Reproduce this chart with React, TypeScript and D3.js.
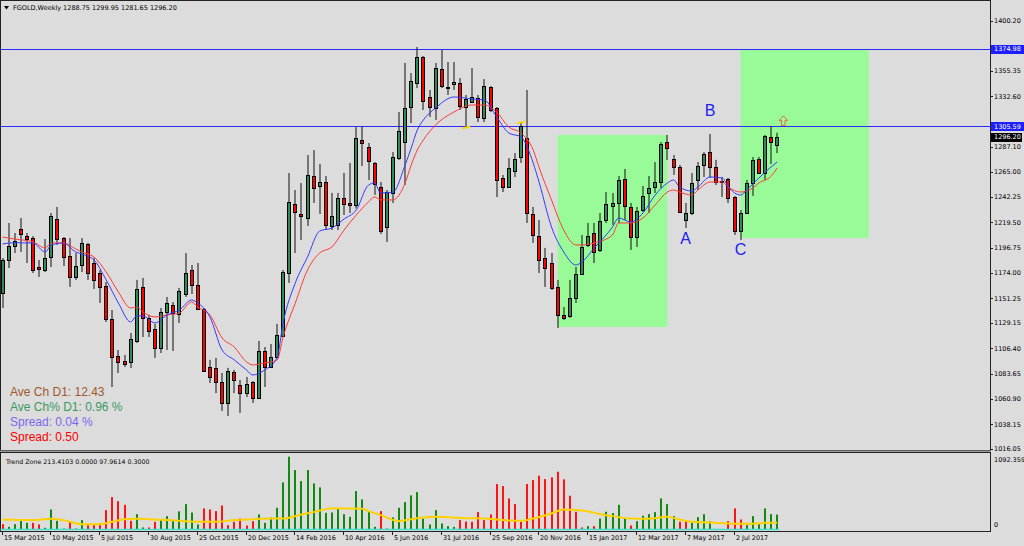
import React from "react";
import * as d3 from "d3";

// weekly bars, 15 Mar 2015 .. 20 Aug 2017 : [open, high, low, close]
const ohlc: [number, number, number, number][] = [
  [1156.1, 1187.5, 1142.6, 1185.7], [1185.7, 1218.9, 1178.5, 1198.3], [1198.3, 1209.9, 1192.0, 1202.7],
  [1213.5, 1223.4, 1192.9, 1209.0], [1207.2, 1209.9, 1183.0, 1204.5], [1205.4, 1207.2, 1174.0, 1176.7],
  [1179.4, 1185.7, 1170.5, 1177.6], [1176.7, 1204.5, 1174.9, 1187.5], [1188.4, 1227.9, 1179.4, 1225.2],
  [1222.5, 1233.3, 1199.2, 1204.5], [1205.4, 1206.3, 1180.3, 1188.4], [1189.3, 1205.4, 1161.5, 1170.5],
  [1170.5, 1192.0, 1167.8, 1180.3], [1181.2, 1205.4, 1174.9, 1201.0], [1200.1, 1201.0, 1167.8, 1174.0],
  [1183.0, 1187.5, 1159.7, 1167.8], [1174.0, 1176.7, 1147.1, 1161.5], [1162.4, 1166.0, 1130.1, 1132.8],
  [1132.8, 1140.8, 1071.7, 1098.7], [1099.6, 1104.9, 1084.3, 1094.2], [1095.1, 1100.5, 1089.7, 1092.4],
  [1094.2, 1120.2, 1088.8, 1114.8], [1113.0, 1167.8, 1111.2, 1159.7], [1161.5, 1169.6, 1116.6, 1133.7],
  [1133.7, 1136.4, 1116.6, 1122.0], [1123.8, 1128.3, 1097.8, 1106.7], [1106.7, 1142.6, 1102.2, 1139.0],
  [1139.0, 1152.5, 1104.9, 1147.1], [1145.3, 1148.0, 1104.0, 1138.1], [1137.2, 1160.6, 1129.2, 1157.9],
  [1155.2, 1192.0, 1152.5, 1174.0], [1176.7, 1181.2, 1155.2, 1163.3], [1163.3, 1183.0, 1140.8, 1141.7],
  [1141.7, 1142.6, 1085.2, 1086.1], [1089.7, 1096.0, 1075.3, 1080.7], [1088.8, 1097.8, 1066.2, 1076.2],
  [1076.2, 1084.3, 1050.2, 1057.4], [1057.4, 1088.8, 1045.7, 1086.1], [1085.2, 1087.0, 1066.2, 1078.0],
  [1073.5, 1078.0, 1048.4, 1066.2], [1066.2, 1080.7, 1062.7, 1074.4], [1076.2, 1077.0, 1057.4, 1061.8],
  [1061.8, 1113.0, 1060.9, 1104.0], [1104.0, 1107.6, 1071.7, 1089.7], [1089.7, 1110.3, 1088.8, 1098.7],
  [1098.7, 1128.3, 1097.8, 1118.4], [1117.5, 1176.7, 1116.6, 1174.9], [1174.0, 1263.8, 1165.1, 1237.8],
  [1236.0, 1248.5, 1192.0, 1228.8], [1227.0, 1254.8, 1203.7, 1225.2], [1223.4, 1279.9, 1216.2, 1262.0],
  [1261.1, 1284.4, 1236.9, 1250.3], [1252.1, 1271.9, 1227.0, 1255.7], [1255.7, 1261.1, 1212.6, 1217.1],
  [1216.2, 1245.9, 1212.6, 1225.2], [1217.1, 1245.9, 1212.6, 1241.3], [1241.3, 1263.8, 1226.1, 1236.0],
  [1236.9, 1272.8, 1227.9, 1235.1], [1235.1, 1305.0, 1232.0, 1295.2], [1293.4, 1305.9, 1270.1, 1290.7],
  [1287.1, 1290.7, 1257.5, 1274.5], [1272.7, 1273.6, 1244.1, 1253.9], [1251.2, 1255.7, 1209.0, 1211.7],
  [1215.3, 1248.5, 1201.9, 1246.7], [1245.8, 1282.6, 1236.9, 1278.1], [1277.2, 1318.5, 1275.5, 1301.5],
  [1291.6, 1362.5, 1253.0, 1322.1], [1323.0, 1353.5, 1308.6, 1346.4], [1344.5, 1376.9, 1340.0, 1367.9],
  [1367.9, 1368.8, 1320.3, 1328.4], [1332.0, 1338.3, 1314.1, 1323.0], [1322.1, 1362.5, 1311.4, 1358.0],
  [1357.1, 1374.2, 1340.0, 1341.8], [1340.9, 1363.4, 1333.8, 1340.0], [1343.6, 1363.4, 1338.3, 1345.5],
  [1344.5, 1349.0, 1320.3, 1323.9], [1323.0, 1333.8, 1304.2, 1330.2], [1327.5, 1358.0, 1326.6, 1332.0],
  [1331.1, 1333.8, 1309.5, 1314.1], [1313.2, 1348.1, 1309.5, 1341.8], [1340.9, 1341.8, 1318.5, 1320.3],
  [1322.1, 1323.0, 1242.2, 1257.5], [1259.3, 1262.0, 1246.7, 1251.2], [1251.2, 1277.2, 1250.3, 1268.3],
  [1265.6, 1281.7, 1260.2, 1276.3], [1278.1, 1309.5, 1272.8, 1305.9], [1295.2, 1338.3, 1218.9, 1227.9],
  [1227.0, 1233.3, 1201.0, 1208.1], [1207.2, 1221.6, 1174.0, 1185.7], [1187.5, 1196.5, 1161.5, 1178.5],
  [1183.0, 1192.0, 1158.8, 1160.6], [1161.5, 1167.8, 1124.7, 1136.4], [1136.4, 1143.5, 1131.9, 1133.7],
  [1135.5, 1167.8, 1133.7, 1151.6], [1151.6, 1179.4, 1147.1, 1173.1], [1173.1, 1208.1, 1172.2, 1197.4],
  [1199.2, 1218.9, 1197.4, 1207.2], [1209.9, 1218.9, 1183.0, 1192.9], [1194.7, 1227.9, 1192.9, 1220.7],
  [1221.6, 1246.7, 1218.9, 1236.0], [1234.2, 1245.8, 1217.1, 1236.9], [1236.9, 1261.1, 1218.9, 1257.5],
  [1258.4, 1267.4, 1221.6, 1234.2], [1233.3, 1236.9, 1194.7, 1206.3], [1206.3, 1233.3, 1197.4, 1229.7],
  [1230.6, 1252.1, 1228.8, 1243.2], [1245.8, 1261.1, 1227.9, 1250.3], [1251.2, 1273.6, 1245.8, 1255.7],
  [1255.7, 1291.6, 1250.3, 1289.8], [1291.6, 1297.9, 1275.5, 1286.2], [1276.4, 1279.9, 1262.0, 1269.2],
  [1269.2, 1271.0, 1227.9, 1228.8], [1221.6, 1236.9, 1214.4, 1227.9], [1227.9, 1263.8, 1226.1, 1254.8],
  [1257.5, 1273.6, 1248.5, 1270.1], [1270.9, 1282.6, 1260.2, 1280.8], [1282.6, 1298.8, 1259.3, 1269.2],
  [1269.2, 1275.5, 1253.0, 1255.7], [1256.6, 1260.2, 1242.2, 1255.7], [1258.4, 1259.3, 1236.9, 1241.3],
  [1242.2, 1243.0, 1208.1, 1211.7], [1211.7, 1230.6, 1203.7, 1227.9], [1227.9, 1257.5, 1227.0, 1254.8],
  [1254.8, 1278.1, 1243.2, 1275.5], [1276.4, 1278.1, 1263.0, 1263.8], [1263.8, 1297.9, 1257.5, 1297.0],
  [1296.1, 1305.9, 1271.9, 1291.6], [1288.75, 1299.95, 1281.65, 1296.2],
];

// moving averages, read at these bars
const maIdx = [0, 2, 5, 7, 8, 10, 12, 13, 15, 17, 19, 21, 22, 23, 25, 27, 29, 31, 32, 34, 36, 38, 40, 41, 43,
  45, 46, 48, 50, 52, 54, 56, 58, 60, 61, 62, 64, 66, 67, 68, 69, 71, 74, 77, 79, 81, 83, 85, 87, 88, 90, 92,
  94, 95, 97, 100, 101, 103, 105, 107, 109, 110, 111, 113, 114, 116, 118, 119, 121, 122, 123, 124, 126, 127];
const maFast = [1200.1, 1201.2, 1200.9, 1192.9, 1199.2, 1200.9, 1192.9, 1191.1, 1185.7, 1167.8, 1147.1, 1130.1,
  1135.5, 1135.5, 1129.2, 1136.4, 1140.8, 1149.8, 1147.1, 1134.6, 1104.9, 1096.0, 1087.0, 1082.5, 1087.0, 1097.8,
  1129.2, 1165.1, 1188.4, 1211.7, 1214.4, 1222.5, 1230.6, 1253.0, 1254.8, 1245.8, 1246.7, 1270.9, 1286.2, 1302.4,
  1311.4, 1322.1, 1332.0, 1330.2, 1329.3, 1314.1, 1299.7, 1296.1, 1272.7, 1254.8, 1215.3, 1192.9, 1181.2, 1183.9,
  1196.5, 1215.3, 1223.4, 1219.8, 1227.9, 1244.0, 1254.8, 1257.5, 1251.2, 1247.6, 1251.2, 1260.2, 1259.3, 1251.2,
  1244.0, 1248.5, 1253.9, 1259.3, 1269.2, 1273.6];
const maSlow = [1206.3, 1204.5, 1201.9, 1196.5, 1201.0, 1201.0, 1195.6, 1192.9, 1188.4, 1174.9, 1157.0, 1142.6,
  1143.5, 1139.0, 1134.6, 1136.4, 1138.1, 1148.0, 1143.5, 1136.4, 1115.7, 1107.6, 1094.2, 1091.5, 1093.3, 1095.9,
  1116.6, 1147.1, 1176.7, 1192.0, 1197.4, 1212.6, 1226.1, 1237.8, 1242.3, 1239.6, 1239.6, 1254.8, 1270.9, 1284.4,
  1293.4, 1306.9, 1318.5, 1324.8, 1324.8, 1318.5, 1305.0, 1299.7, 1284.4, 1268.3, 1239.6, 1212.6, 1199.2, 1199.2,
  1201.0, 1208.1, 1218.9, 1218.9, 1223.4, 1235.1, 1246.7, 1248.5, 1246.7, 1244.0, 1248.5, 1255.7, 1255.7, 1251.2,
  1246.7, 1247.6, 1250.3, 1254.8, 1260.9, 1268.3];

// Trend Zone histogram: positive = green, negative = red
const trendZone = [-76, 38, 76, 124, 95, -95, -72, 24, 286, 124, 14, -119, -14, 134, -62, -62, -86, -277, -463,
  -405, -353, -124, 219, 29, -29, -110, 143, 191, 124, 258, 363, 243, 72, -301, -286, -262, -343, -62, -110, -157,
  -57, -119, 215, 95, 172, 310, 673, 1040, 849, 692, 849, 658, 601, 239, 243, 301, 219, 181, 549, 429, 248, 38,
  -262, -14, 172, 310, 391, 487, 534, 157, 72, 277, 86, 48, 38, -134, -114, -110, -248, -134, -215, -649, -620,
  -444, -363, -110, -649, -706, -768, -720, -744, -825, -716, -482, -253, -29, 48, -48, 157, 253, 234, 353, 153,
  -57, 119, 196, 219, 248, 444, 363, 191, -110, -119, 95, 176, 219, 119, 0, 0, -119, -301, -143, 62, 191, 76, 301,
  219, 213.41];
const tzAvgIdx = [0, 5, 8, 10, 13, 16, 18, 20, 22, 24, 27, 30, 32, 35, 38, 41, 44, 46, 49, 51, 53, 54, 59, 60, 62,
  65, 67, 71, 73, 76, 79, 82, 85, 87, 90, 92, 94, 96, 98, 100, 103, 106, 109, 111, 113, 116, 120, 123, 125, 127];
const tzAvg = [143, 134, 153, 134, 76, 76, 110, 148, 153, 148, 134, 119, 110, 110, 134, 148, 157, 157, 215, 248,
  291, 305, 296, 262, 205, 119, 148, 181, 176, 162, 157, 134, 124, 157, 229, 286, 277, 258, 219, 191, 157, 153,
  181, 143, 110, 100, 81, 81, 95, 97.96];
const tzLevel = 0.3;
const tzMax = 1092.359;

const dateTickIdx = [0, 8, 16, 24, 32, 40, 48, 56, 64, 72, 80, 88, 96, 104, 112, 120];
const dateLabels = ["15 Mar 2015", "10 May 2015", "5 Jul 2015", "30 Aug 2015", "25 Oct 2015", "20 Dec 2015",
  "14 Feb 2016", "10 Apr 2016", "5 Jun 2016", "31 Jul 2016", "25 Sep 2016", "20 Nov 2016", "15 Jan 2017",
  "12 Mar 2017", "7 May 2017", "2 Jul 2017"];
// 1377.45 and 1309.85 sit under the level boxes, so they are left out
const priceTicks = [1400.2, 1355.35, 1332.6, 1287.1, 1265.0, 1242.25, 1219.5, 1196.75, 1174.0,
  1151.25, 1129.15, 1106.4, 1083.65, 1060.9, 1038.15, 1016.05];

const levels = [1374.98, 1305.59];
const lastPrice = 1296.2;

// green zones
const zoneStart = [91, 121];
const zoneEnd = [109, 142];
const zoneHigh = [1297.9, 1374.98];
const zoneLow = [1125.6, 1205.4];

const waveLabels = ["A", "B", "C"];
const waveIdx = [112, 116, 121];
const wavePrice = [1205.4, 1320.3, 1195.6];

const markIdx = [76, 85];
const markPrice = [1304.6, 1309.2];
const arrowIdx = 128;
const arrowPrice = 1306.5;

const infoLines = ["Ave Ch D1: 12.43", "Ave Ch% D1: 0.96 %", "Spread: 0.04 %", "Spread: 0.50"];
const infoColors = ["#a0582d", "#3a9a5c", "#7b68ee", "#ff0000"];

const BG = "#dcdcdc";
const AXIS_X = 990;
const small = "DejaVu Sans, sans-serif";
const arial = "Liberation Sans, Arial, sans-serif";

export default function App() {
  const x = d3.scaleLinear().domain([0, 127]).range([2.5, 777.2]);
  const y = d3.scaleLinear().domain([1016.05, 1400.2]).range([449, 21]);
  const yTz = d3.scaleLinear().domain([0, tzMax]).range([529.5, 453]);

  const maLine = d3.line<number>()
    .x((_, k) => x(maIdx[k]))
    .y((d) => y(d))
    .curve(d3.curveMonotoneX);
  const avgLine = d3.line<number>()
    .x((_, k) => x(tzAvgIdx[k]))
    .y((d) => yTz(d))
    .curve(d3.curveMonotoneX);

  const px = (v: number) => Math.round(v) + 0.5;

  return (
    <svg width={1024} height={546} style={{ position: "absolute", left: 0, top: 0, background: BG }}
      fontFamily={small}>
      <rect width={1024} height={546} fill={BG} />
      <defs>
        <clipPath id="main"><rect x={1} y={1} width={AXIS_X - 1} height={449} /></clipPath>
      </defs>

      <g clipPath="url(#main)">
        {zoneStart.map((s, k) => (
          <rect key={k} x={x(s)} y={y(zoneHigh[k])} width={x(zoneEnd[k]) - x(s)}
            height={y(zoneLow[k]) - y(zoneHigh[k])} fill="#98fb98" />
        ))}
        {levels.map((v) => (
          <line key={v} x1={1} x2={AXIS_X} y1={px(y(v))} y2={px(y(v))} stroke="#2b2bff" />
        ))}
        {ohlc.map(([o, h, l, c], i) => {
          const cx = Math.round(x(i));
          const top = Math.round(y(Math.max(o, c)));
          const bot = Math.round(y(Math.min(o, c)));
          return (
            <g key={i}>
              <line x1={cx} x2={cx} y1={y(h)} y2={y(l)} stroke="#111" />
              <rect x={cx - 1.5} y={top + 0.5} width={3} height={Math.max(0, bot - top)}
                fill={c >= o ? "#2e8b57" : "#ff0000"} stroke="#000" />
            </g>
          );
        })}
        <path d={maLine(maSlow) ?? ""} fill="none" stroke="#ff3a3a" strokeWidth={1} />
        <path d={maLine(maFast) ?? ""} fill="none" stroke="#3a3aff" strokeWidth={1} />
        {markIdx.map((m, k) => (
          <line key={k} x1={x(m) - 4} x2={x(m) + 4} y1={y(markPrice[k]) + 1} y2={y(markPrice[k]) - 1}
            stroke="#ffd700" strokeWidth={2} />
        ))}
        {waveLabels.map((t, k) => (
          <text key={t} x={x(waveIdx[k])} y={y(wavePrice[k])} dy="0.36em" textAnchor="middle"
            fontFamily={arial} fontSize={16} fill="#2222ee">{t}</text>
        ))}
        {(() => {
          const ax = x(arrowIdx), ay = y(arrowPrice);
          const pts = [[ax - 1.8, ay], [ax - 1.8, ay - 5], [ax - 4.2, ay - 5], [ax, ay - 9.5],
            [ax + 4.2, ay - 5], [ax + 1.8, ay - 5], [ax + 1.8, ay]];
          return <polygon points={pts.map((p) => p.join(",")).join(" ")} fill="none" stroke="#f0643c" />;
        })()}
        {infoLines.map((t, k) => (
          <text key={t} x={10} y={396 + k * 15} fontFamily={arial} fontSize={12} fill={infoColors[k]}>{t}</text>
        ))}
      </g>

      {/* header */}
      <path d="M4,6 L9,6 L6.5,9.5 Z" fill="#000" />
      <text x={13} y={10} fontSize={6.5} fill="#000">FGOLD,Weekly  1288.75 1299.95 1281.65 1296.20</text>

      {/* frames */}
      <rect x={0.5} y={0.5} width={AXIS_X} height={450} fill="none" stroke="#222" />
      <line x1={0} x2={AXIS_X + 0.5} y1={451.5} y2={451.5} stroke="#999" strokeWidth={2} />

      {/* price axis */}
      {priceTicks.map((v) => (
        <g key={v}>
          <line x1={AXIS_X} x2={AXIS_X + 3} y1={px(y(v))} y2={px(y(v))} stroke="#222" />
          <text x={994} y={y(v)} dy="0.35em" fontSize={6.5} fill="#000">{v.toFixed(2)}</text>
        </g>
      ))}
      {levels.map((v) => (
        <g key={v}>
          <rect x={991} y={Math.round(y(v)) - 4} width={33} height={9} fill="#1e1eff" />
          <text x={994} y={y(v)} dy="0.35em" fontSize={6.5} fill="#fff">{v.toFixed(2)}</text>
        </g>
      ))}
      <rect x={991} y={Math.round(y(lastPrice)) - 4} width={31} height={9} fill="#000" />
      <text x={994} y={y(lastPrice)} dy="0.35em" fontSize={6.5} fill="#fff">{lastPrice.toFixed(2)}</text>

      {/* Trend Zone pane */}
      <rect x={0.5} y={452.5} width={AXIS_X} height={79} fill="none" stroke="#222" />
      <text x={6} y={464} fontSize={6.3} fill="#000">Trend Zone 213.4103 0.0000 97.9614 0.3000</text>
      {trendZone.map((v, i) => (
        v === 0 ? null : (
          <rect key={i} x={Math.round(x(i)) - 1} y={yTz(Math.abs(v))} width={2}
            height={yTz(0) - yTz(Math.abs(v))} fill={v > 0 ? "#128a12" : "#ff1414"} />
        )
      ))}
      <line x1={x(0) - 2} x2={x(127) + 2} y1={yTz(tzLevel)} y2={yTz(tzLevel)} stroke="#40e0d0" strokeWidth={1.5} />
      <path d={avgLine(tzAvg) ?? ""} fill="none" stroke="#ffd200" strokeWidth={2} />
      <text x={994} y={460} dy="0.35em" fontSize={6.5} fill="#000">{tzMax.toFixed(3)}</text>
      <text x={994} y={525} dy="0.35em" fontSize={6.5} fill="#000">0</text>

      {/* time axis */}
      {dateTickIdx.map((d, k) => (
        <g key={d}>
          <line x1={px(x(d)) - 1} x2={px(x(d)) - 1} y1={531} y2={535} stroke="#222" />
          <text x={Math.round(x(d)) + 1} y={540} fontSize={6.4} fill="#000">{dateLabels[k]}</text>
        </g>
      ))}
    </svg>
  );
}
